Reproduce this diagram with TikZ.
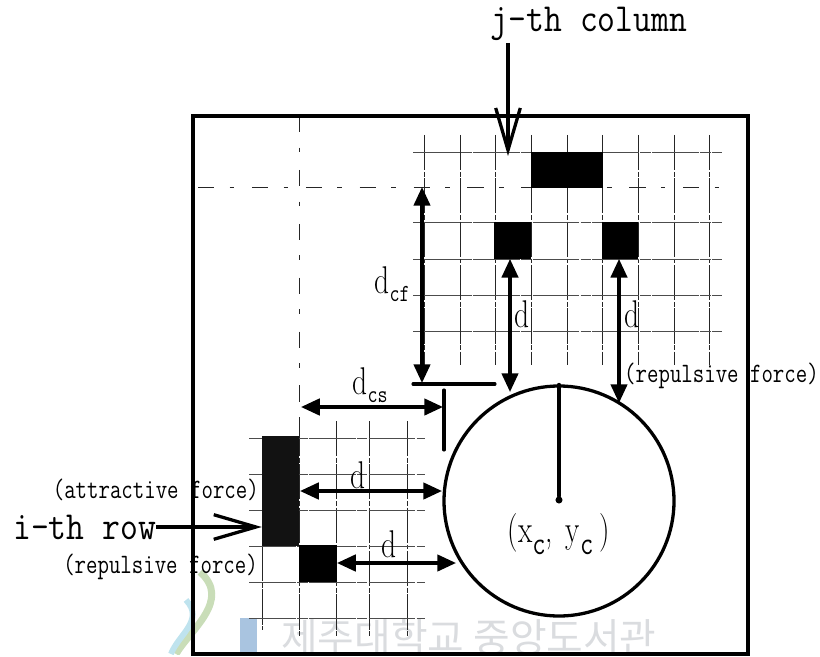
\documentclass[tikz,border=0pt]{standalone}
\usepackage{fontspec}
\usepackage{tikz}
\usetikzlibrary{arrows.meta,positioning,calc}
\newfontfamily\kofont{Noto Sans CJK KR}
\newfontfamily\bigmono[FakeStretch=0.87]{Latin Modern Mono}
\newfontfamily\smallmono[FakeStretch=0.79]{Latin Modern Mono}
\newfontfamily\dimfont[FakeStretch=0.76]{Latin Modern Roman}
\definecolor{markblue}{HTML}{A9C4E0}
\definecolor{markgreen}{HTML}{C9DDB8}
\definecolor{markcyan}{HTML}{BFE3EE}
\definecolor{markgray}{HTML}{DADCDF}
\newcommand{\subtxt}[1]{\raisebox{-0.45ex}{\smallmono\fontsize{21}{21}\selectfont #1}}
\newcommand{\subbig}[1]{\raisebox{-0.7ex}{\smallmono\fontsize{28}{28}\selectfont #1}}

\begin{document}
\begin{tikzpicture}[
    x=0.03cm,y=-0.03cm,
    every node/.style={inner sep=0pt},
    bigtxt/.style={font=\bigmono\fontsize{34}{36}\selectfont},
    smalltxt/.style={font=\smallmono\fontsize{24}{26}\selectfont},
    dimtxt/.style={font=\dimfont\fontsize{33}{35}\selectfont},
    cell/.style={fill=black,minimum height=1.09cm},
    gridh/.style={line width=0.7pt,black!70,dash pattern=on 40pt off 1pt on 9pt off 1pt},
    gridv/.style={line width=0.7pt,black!85,dash pattern=on 30pt off 1.5pt on 4pt off 1.5pt},
    sparse/.style={line width=0.7pt,black!85,dash pattern=on 14pt off 13pt on 4pt off 15pt},
    dimline/.style={{Triangle[length=16pt,width=14pt]}-{Triangle[length=16pt,width=14pt]},line width=2.8pt},
    openarrow/.style={-{Straight Barb[length=36pt,width=21pt]},line width=2.8pt},
    bar/.style={line width=2.6pt,line cap=round}
]
\useasboundingbox (0,0) rectangle (820,657);

% Watermark
\begin{scope}
\clip (0,0) rectangle (820,654);
\draw[markgreen,line width=6pt] (200,572) .. controls (232,600) and (190,630) .. (176,654);
\draw[markcyan,line width=5pt] (186,600) .. controls (205,620) and (178,635) .. (171,654);
\fill[markblue] (240,618) rectangle (257,654);
\node[anchor=west,font=\kofont\fontsize{34}{36}\selectfont,text=markgray] (mark) at (281,638) {제주대학교 중앙도서관};
\end{scope}

% Upper grid
\foreach \gx in {424,460,495,531,567,602,638,674,709}
    \draw[gridv] (\gx,135) -- (\gx,365);
\foreach \gy in {152,222,259,295,331}
    \draw[gridh] (413,\gy) -- (722,\gy);
\draw[sparse] (198,187) -- (730,187);
\draw[sparse] (299,116) -- (299,421);

% Lower grid
\foreach \gx in {299,336,369,407}
    \draw[gridv] (\gx,421) -- (\gx,637);
\draw[gridv] (262,546) -- (262,630);
\foreach \gy in {438,474,510,546,582,618}
    \draw[gridh] (249,\gy) -- (425,\gy);

% Filled cells
\node[cell,minimum width=2.16cm] (cella) at (567,170) {};
\node[cell,minimum width=1.11cm] (cellb) at (512.5,240.5) {};
\node[cell,minimum width=1.08cm] (cellc) at (620,240.5) {};
\node[fill=black!93,minimum width=1.11cm,minimum height=3.28cm] (cellr) at (280.5,491) {};
\node[cell,minimum width=1.14cm] (cells) at (318,563.5) {};

% Frame and circle
\draw[line width=3pt] (193,116) rectangle (748,654);
\node[circle,draw,line width=2.8pt,minimum size=6.9cm] (disc) at (559,501) {};
\node[circle,fill=black,minimum size=6pt] (centre) at (559,500) {};
\draw[bar] (disc.north) -- (centre);

% End points
\coordinate (cftop) at (422,187);
\coordinate (cfbot) at (422,383);
\coordinate (barla) at (413,384);
\coordinate (barlb) at (495,384);
\coordinate (barva) at (444,390);
\coordinate (barvb) at (444,450);
\coordinate (csl) at (301,407);
\coordinate (csr) at (443,407);
\coordinate (dhit) at (510,392);
\coordinate (dhitb) at (619,403);
\coordinate (dra) at (300,491);
\coordinate (drb) at (442,491);
\coordinate (dsa) at (337,563);
\coordinate (dsb) at (456,563);
\coordinate (cola) at (508,43);
\coordinate (colb) at (508,156);

% Dimensions
\draw[dimline] (cftop) -- (cfbot);
\draw[bar] (barla) -- (barlb);
\draw[bar] (barva) -- (barvb);
\draw[dimline] (csl) -- (csr);
\draw[dimline] (cellb.south -| dhit) -- (dhit);
\draw[dimline] (cellc.south -| dhitb) -- (dhitb);
\draw[dimline] (dra) -- (drb);
\draw[dimline] (dsa) -- (dsb);

% Labels
\node[bigtxt] (collab) at (589,24) {j-th column};
\node[bigtxt,anchor=west] (rowlab) at (13,527) {i-th row};
\draw[openarrow] (rowlab.east) -- (cellr.west |- rowlab.east);
\draw[openarrow] (cola) -- (colb);
\node[smalltxt,anchor=east] (attr) at (259,490) {(attractive force)};
\node[smalltxt,anchor=east] (repl) at (258,567) {(repulsive force)};
\node[smalltxt,anchor=west] (repr) at (624,376) {(repulsive force)};
\node[dimtxt] (dcf) at (392,284) {d\subtxt{cf}};
\node[dimtxt] (dcs) at (370,385) {d\subtxt{cs}};
\node[dimtxt] (dta) at (522,314) {d};
\node[dimtxt] (dtb) at (632,314) {d};
\node[dimtxt] (dma) at (358,475) {d};
\node[dimtxt] (dmb) at (389,544) {d};
\node[dimtxt] (cxy) at (559,534) {(x\subbig{c},\,\,y\subbig{c}\,)};
\end{tikzpicture}
\end{document}
